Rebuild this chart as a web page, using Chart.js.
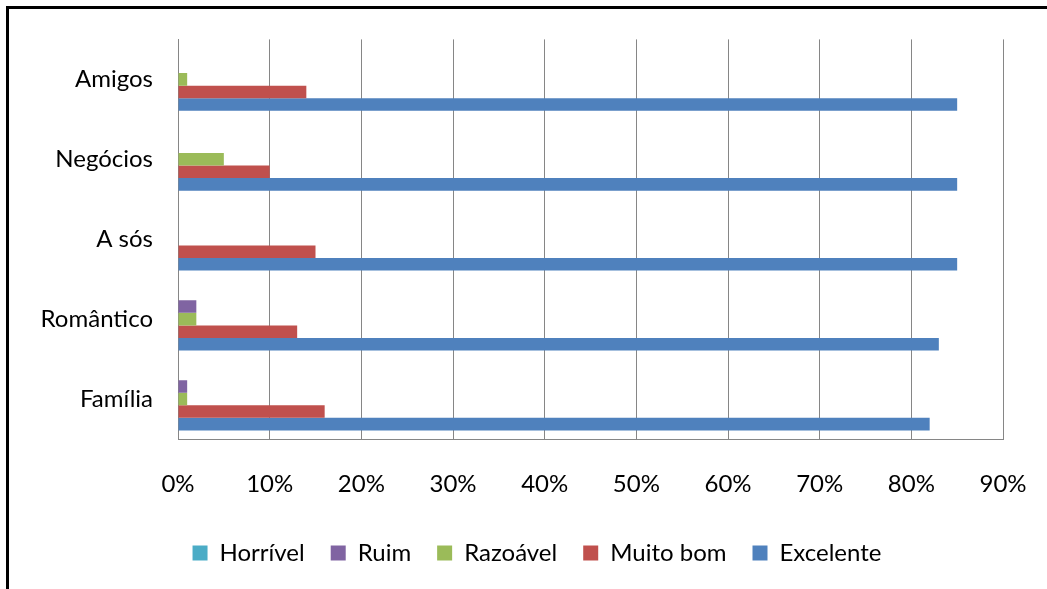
<!DOCTYPE html>
<html>
<head>
<meta charset="utf-8">
<script src="https://cdn.jsdelivr.net/npm/chart.js@4/dist/chart.umd.min.js"></script>
<style>
  html, body { margin: 0; padding: 0; background: #fff; }
  #wrap { position: relative; width: 1047px; height: 589px; overflow: hidden; }
  #frame { position: absolute; left: 6px; top: 6px; width: 2000px; height: 2000px;
           border-left: 3px solid #000; border-top: 3px solid #000; }
  canvas { position: absolute; left: 0; top: 0; }
</style>
</head>
<body>
<div id="wrap">
  <div id="frame"></div>
  <canvas id="chart" width="1047" height="589"></canvas>
</div>
<script>
// categories, top to bottom
const categories = ['Amigos', 'Negócios', 'A sós', 'Romântico', 'Família'];

// percentages
const horrivel  = [0, 0, 0, 0, 0];
const ruim      = [0, 0, 0, 2, 1];
const razoavel  = [1, 5, 0, 2, 1];
const muitoBom  = [14, 10, 15, 13, 16];
const excelente = [85, 85, 85, 83, 82];

const xTicks = [0, 10, 20, 30, 40, 50, 60, 70, 80, 90];

const FONT = 'Lato, Carlito, Calibri, sans-serif';
const FONT_SIZE = 24;
const PAD_LEFT = 30;
const PAD_RIGHT = 3;

const ctx = document.getElementById('chart').getContext('2d');
new Chart(ctx, {
    type: 'bar',
    data: {
        labels: categories,
        datasets: [
            { label: 'Horrível',  data: horrivel,  backgroundColor: '#4BACC6' },
            { label: 'Ruim',      data: ruim,      backgroundColor: '#8064A2' },
            { label: 'Razoável',  data: razoavel,  backgroundColor: '#9BBB59' },
            { label: 'Muito bom', data: muitoBom,  backgroundColor: '#C0504D' },
            { label: 'Excelente', data: excelente, backgroundColor: '#4F81BD' }
        ]
    },
    options: {
        indexAxis: 'y',
        responsive: false,
        animation: false,
        categoryPercentage: 0.785,
        barPercentage: 1.0,
        layout: { padding: { top: 35, right: PAD_RIGHT, bottom: 14, left: PAD_LEFT } },
        scales: {
            x: {
                min: 0,
                max: 90,
                afterBuildTicks: (scale) => { scale.ticks = xTicks.map(v => ({ value: v })); },
                afterFit: (scale) => { scale.height = 76; },
                grid: { color: '#868686', lineWidth: 1, drawTicks: true, tickLength: 28, tickColor: 'rgba(0,0,0,0)' },
                border: { display: true, color: '#868686', width: 1 },
                ticks: {
                    padding: 3,
                    color: '#000',
                    font: { family: FONT, size: FONT_SIZE },
                    callback: (v) => v + '%'
                }
            },
            y: {
                afterFit: (scale) => { scale.width = 178 - PAD_LEFT; },
                grid: { display: false, drawTicks: false },
                border: { display: true, color: '#868686', width: 1 },
                ticks: {
                    padding: 25,
                    color: '#000',
                    font: { family: FONT, size: FONT_SIZE }
                }
            },
            // empty right-hand gutter so the plot ends at the 90% line
            yRight: {
                type: 'linear',
                axis: 'y',
                position: 'right',
                afterFit: (scale) => { scale.width = 1047 - PAD_RIGHT - 1003; },
                grid: { display: false, drawTicks: false },
                border: { display: false },
                ticks: { display: false }
            }
        },
        plugins: {
            legend: {
                position: 'bottom',
                labels: {
                    boxWidth: 15,
                    boxHeight: 15,
                    padding: 26,
                    color: '#000',
                    font: { family: FONT, size: FONT_SIZE }
                }
            },
            tooltip: { enabled: false }
        }
    }
});
</script>
</body>
</html>
